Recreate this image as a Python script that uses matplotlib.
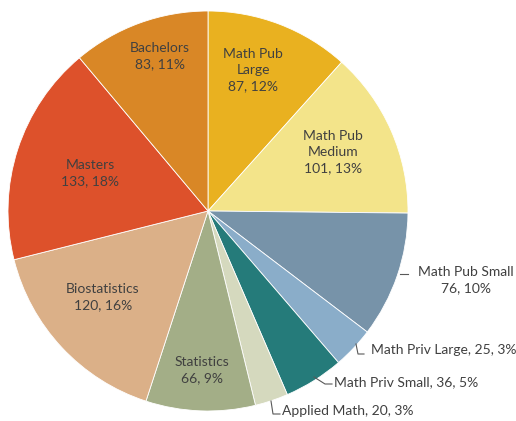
import matplotlib.pyplot as plt

labels = ['Math Pub Large', 'Math Pub Medium', 'Math Pub Small', 'Math Priv Large',
          'Math Priv Small', 'Applied Math', 'Statistics', 'Biostatistics',
          'Masters', 'Bachelors']
counts = [87, 101, 76, 25, 36, 20, 66, 120, 133, 83]
# percentages as printed on the chart
pcts = [12, 13, 10, 3, 5, 3, 9, 16, 18, 11]
colors = ['#E9B120', '#F3E48A', '#7793A9', '#8AADC9', '#257B7A',
          '#D5D9BE', '#A3AE87', '#DBB088', '#DD512B', '#D98726']

# centre (208, 211) px, radius 200 px
def px(x, y):
    return (x - 208) / 200, (211 - y) / 200

fig = plt.figure(figsize=(5.16, 4.21), dpi=100)
ax = fig.add_axes([0, 0, 1, 1])
ax.pie(counts, colors=colors, startangle=90, counterclock=False, radius=1,
       wedgeprops=dict(edgecolor='white', linewidth=0.6))
ax.set_xlim(-208 / 200, (516 - 208) / 200)
ax.set_ylim(-(421 - 211) / 200, 211 / 200)
ax.set_aspect('equal')
ax.axis('off')

tc = '#404040'
fs = 10
font = 'Lato'

# labels inside the slices
inside = {
    0: ('Math Pub\nLarge', (253, 70)),
    1: ('Math Pub\nMedium', (333, 152)),
    6: ('Statistics', (202, 370)),
    7: ('Biostatistics', (103, 297)),
    8: ('Masters', (90, 173)),
    9: ('Bachelors', (160, 56)),
}
for i, (name, (x, y)) in inside.items():
    ax.text(*px(x, y), f'{name}\n{counts[i]}, {pcts[i]}%', ha='center', va='center',
            fontsize=fs, color=tc, family=font, linespacing=1.45)

# outside labels with leader lines
lc = '#595959'
ax.text(*px(466, 280), f'{labels[2]}\n{counts[2]}, {pcts[2]}%', ha='center', va='center',
        fontsize=fs, color=tc, family=font, linespacing=1.45)
ax.plot(*zip(px(400, 274), px(408, 274)), color=lc, lw=0.8)

ax.text(*px(371, 350), f'{labels[3]}, {counts[3]}, {pcts[3]}%', ha='left', va='center',
        fontsize=fs, color=tc, family=font)
ax.plot(*zip(px(356, 344), px(358, 354), px(364, 354)), color=lc, lw=0.8)

ax.text(*px(334, 382), f'{labels[4]}, {counts[4]}, {pcts[4]}%', ha='left', va='center',
        fontsize=fs, color=tc, family=font)
ax.plot(*zip(px(314, 377), px(325, 384), px(332, 384)), color=lc, lw=0.8)

ax.text(*px(282, 411), f'{labels[5]}, {counts[5]}, {pcts[5]}%', ha='left', va='center',
        fontsize=fs, color=tc, family=font)
ax.plot(*zip(px(271, 401), px(273, 414), px(280, 414)), color=lc, lw=0.8)

fig.savefig('out.png', dpi=100)
